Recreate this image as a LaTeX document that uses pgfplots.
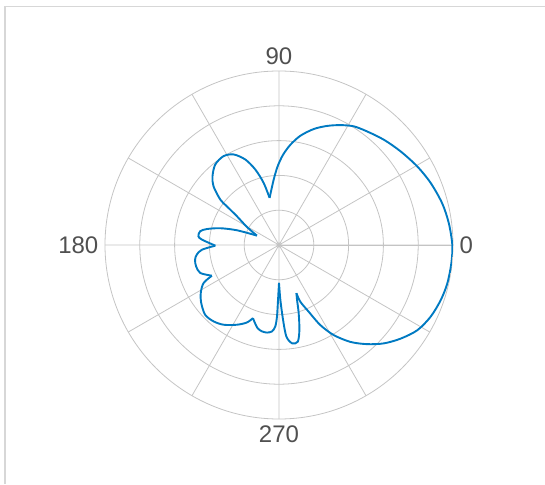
\documentclass[border=0pt]{standalone}
\usepackage{pgfplots}
\pgfplotsset{compat=1.18}
\usepgfplotslibrary{polar}
\usepackage{fontspec}
\setmainfont{Liberation Sans}
\definecolor{lobe}{RGB}{0,122,194}
\definecolor{gridc}{RGB}{196,196,196}
\definecolor{labc}{RGB}{80,80,80}
\definecolor{framec}{RGB}{215,215,215}
\pgfplotsset{lobeline/.style={draw=lobe, line width=1.9pt, smooth, tension=0.5, mark=none, solid}}
\begin{document}
\begin{tikzpicture}
\begin{polaraxis}[
  at={(279pt,239pt)}, anchor=center,
  scale only axis, width=348pt, height=348pt,
  ymin=0, ymax=5, ytick={1,2,3,4}, yticklabels={},
  xtick={0,30,...,330},
  xticklabels={0,,,90,,,180,,,270,,},
  grid=major,
  major grid style={gridc, line width=0.8pt},
  axis line style={gridc, line width=0.8pt},
  tick style={draw=none},
  xticklabel style={font=\fontsize{24}{24}\selectfont, text=labc, inner sep=6.5pt},
]
% main lobe
\addplot[lobeline] table {
101.3 1.38
94.7 1.88
91.0 2.26
87.5 2.59
83.5 2.90
78.9 3.20
73.3 3.48
68.0 3.69
62.9 3.87
57.8 4.03
52.2 4.13
45.1 4.27
37.6 4.41
29.6 4.57
22.2 4.71
14.3 4.84
7.3 4.92
0.0 4.98
-6.1 4.98
-12.9 4.96
-18.8 4.91
-25.3 4.82
-31.6 4.67
-37.6 4.41
-43.2 4.13
-48.4 3.81
-53.6 3.46
-58.7 3.03
-62.7 2.59
-66.0 2.10
-69.4 1.74
-70.1 1.47
};
% narrow lobe near 280
\addplot[lobeline] table {
-70.1 1.47
-71.8 1.66
-73.9 2.04
-76.5 2.51
-79.0 2.83
-82.4 2.85
-85.4 2.64
-86.9 2.15
-88.6 1.57
-90.0 1.09
};
% lobe near 260
\addplot[lobeline] table {
-90.0 1.09
-91.0 1.57
-91.6 2.05
-92.6 2.34
-94.6 2.49
-97.8 2.54
-101.1 2.53
-104.4 2.47
-107.9 2.31
-109.6 2.23
};
% lobe near 225
\addplot[lobeline] table {
-109.6 2.23
-112.5 2.41
-117.8 2.59
-124.8 2.79
-130.6 2.89
-136.6 2.92
-143.2 2.79
-148.4 2.64
-153.2 2.43
-155.4 2.12
};
% lobe near 193
\addplot[lobeline] table {
-155.4 2.12
-160.4 2.40
-165.5 2.46
-170.0 2.45
-173.3 2.38
-176.5 2.22
-179.4 1.83
};
% lobe near 172
\addplot[lobeline] table {
180.6 1.83
176.0 2.22
173.8 2.33
170.1 2.30
167.5 2.12
164.1 1.76
160.7 1.28
157.0 0.69
};
% lobe near 125
\addplot[lobeline] table {
157.0 0.69
150.6 1.06
145.7 1.46
143.4 1.87
142.3 2.13
138.1 2.53
134.0 2.75
128.4 2.95
122.0 3.01
116.6 2.91
111.5 2.64
107.4 2.27
103.9 1.84
101.3 1.38
};
\end{polaraxis}
\draw[framec, line width=1.5pt] (5pt,0pt) -- (5pt,477.5pt) -- (545pt,477.5pt);
\pgfresetboundingbox
\path[use as bounding box] (0pt,0pt) rectangle (545pt,484pt);
\end{tikzpicture}
\end{document}
